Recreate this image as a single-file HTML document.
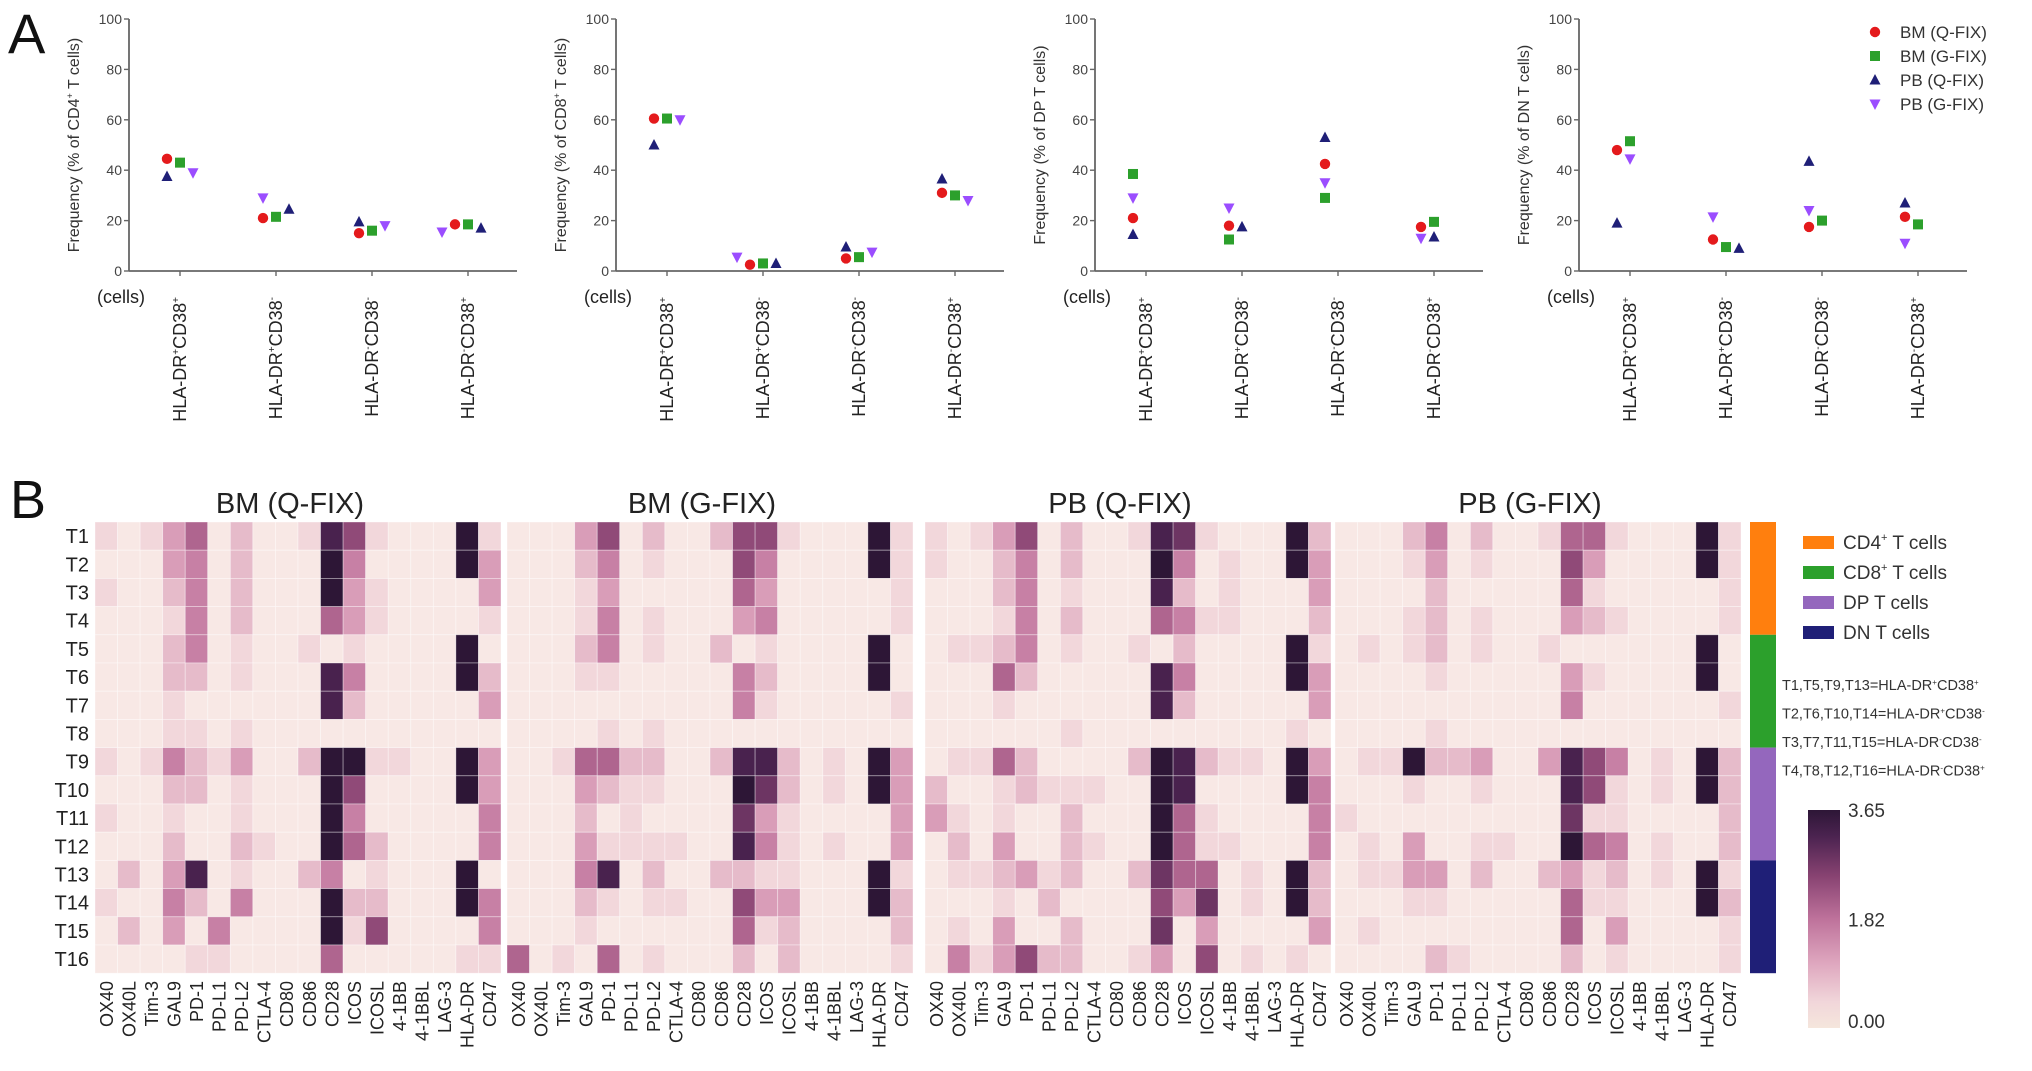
<!DOCTYPE html>
<html><head><meta charset="utf-8">
<style>
html,body{margin:0;padding:0;background:#fff;}
svg{display:block;font-family:"Liberation Sans",Arial,sans-serif;}
</style></head>
<body>
<svg id="fig" width="2032" height="1071" viewBox="0 0 2032 1071" xmlns="http://www.w3.org/2000/svg">
<rect x="0" y="0" width="2032" height="1071" fill="#fff"/>
<text x="8" y="53" font-size="56" fill="#111">A</text>
<text x="10" y="518" font-size="54" fill="#111">B</text>
<g id="topPanels"></g>
<g id="heatPanel"></g>
</svg>
<script>
// ---------- Panel A data ----------
const categories = ["HLA-DR+CD38+","HLA-DR+CD38-","HLA-DR-CD38-","HLA-DR-CD38+"];
const yTicks = [0,20,40,60,80,100];
const panelTitles = ["CD4+","CD8+","DP","DN"];
const seriesNames = ["BM (Q-FIX)","BM (G-FIX)","PB (Q-FIX)","PB (G-FIX)"];
// values per panel: [category][series: BMQ, BMG, PBQ, PBG]
const cd4Values = [[44.5,43,37.5,39],[21,21.5,24.5,29],[15,16,19.5,18],[18.5,18.5,17,15.5]];
const cd8Values = [[60.5,60.5,50,60],[2.5,3,3,5.5],[5,5.5,9.5,7.5],[31,30,36.5,28]];
const dpValues  = [[21,38.5,14.5,29],[18,12.5,17.5,25],[42.5,29,53,35],[17.5,19.5,13.5,13]];
const dnValues  = [[48,51.5,19,44.5],[12.5,9.5,9,21.5],[17.5,20,43.5,24],[21.5,18.5,27,11]];

// ---------- Panel B data ----------
const markers = ["OX40","OX40L","Tim-3","GAL9","PD-1","PD-L1","PD-L2","CTLA-4","CD80","CD86","CD28","ICOS","ICOSL","4-1BB","4-1BBL","LAG-3","HLA-DR","CD47"];
const rowLabels = ["T1","T2","T3","T4","T5","T6","T7","T8","T9","T10","T11","T12","T13","T14","T15","T16"];
const blockTitles = ["BM (Q-FIX)","BM (G-FIX)","PB (Q-FIX)","PB (G-FIX)"];
const colorbarTicks = ["0.00","1.82","3.65"];
const vmax = 3.65;
// expression levels on a 0..9 scale (9 = 3.65)
const bmqLevels = [
[1,0,1,3,5,0,2,0,0,1,8,6,1,0,0,0,9,1],[0,0,0,3,4,0,2,0,0,0,9,4,0,0,0,0,9,3],[1,0,0,2,4,0,2,0,0,0,9,3,1,0,0,0,0,3],[0,0,0,1,4,0,2,0,0,0,5,3,1,0,0,0,0,1],
[0,0,0,2,4,0,1,0,0,1,0,1,0,0,0,0,9,0],[0,0,0,2,2,0,1,0,0,0,8,4,0,0,0,0,9,2],[0,0,0,1,0,0,0,0,0,0,8,2,0,0,0,0,0,3],[0,0,0,1,1,0,1,0,0,0,0,0,0,0,0,0,0,0],
[1,0,1,4,2,1,3,0,0,2,9,9,1,1,0,0,9,3],[0,0,0,2,2,0,1,0,0,0,9,6,0,0,0,0,9,3],[1,0,0,1,0,0,1,0,0,0,9,4,0,0,0,0,0,4],[0,0,0,2,0,0,2,1,0,0,9,5,2,0,0,0,0,4],
[0,2,0,3,8,0,1,0,0,2,4,0,1,0,0,0,9,0],[1,0,0,4,2,0,4,0,0,0,9,2,2,0,0,0,9,4],[0,2,0,3,0,4,0,0,0,0,9,1,6,0,0,0,0,4],[0,0,0,0,1,1,0,0,0,0,5,0,0,0,0,0,1,1]];
const bmgLevels = [
[0,0,0,3,6,0,2,0,0,2,6,6,1,0,0,0,9,1],[0,0,0,2,4,0,1,0,0,0,6,4,0,0,0,0,9,1],[0,0,0,1,3,0,0,0,0,0,5,3,0,0,0,0,0,1],[0,0,0,1,4,0,1,0,0,0,3,4,0,0,0,0,0,1],
[0,0,0,2,4,0,1,0,0,2,0,1,0,0,0,0,9,0],[0,0,0,1,1,0,0,0,0,0,4,2,0,0,0,0,9,0],[0,0,0,0,0,0,0,0,0,0,4,1,0,0,0,0,0,1],[0,0,0,0,1,0,1,0,0,0,0,0,0,0,0,0,0,0],
[0,0,1,5,5,2,2,0,0,2,8,8,2,0,1,0,9,3],[0,0,0,3,2,1,1,0,0,0,9,7,2,0,1,0,9,3],[0,0,0,2,0,1,0,0,0,0,7,3,1,0,0,0,0,3],[0,0,0,3,1,1,1,1,0,0,8,4,1,0,1,0,0,3],
[0,0,0,4,8,0,2,0,0,2,2,1,1,0,0,0,9,1],[0,0,0,2,1,0,1,1,0,0,6,3,3,0,0,0,9,2],[0,0,0,1,0,0,0,0,0,0,5,1,2,0,0,0,0,2],[5,0,1,0,5,0,1,0,0,0,2,0,2,0,0,0,0,1]];
const pbqLevels = [
[1,0,1,3,6,0,2,0,0,1,8,7,1,0,0,0,9,2],[1,0,0,2,4,0,2,0,0,0,9,4,0,1,0,0,9,3],[0,0,0,2,4,0,1,0,0,0,8,2,0,1,0,0,0,3],[0,0,0,1,4,0,2,0,0,0,5,4,1,1,0,0,0,2],
[0,1,1,2,4,0,1,0,0,1,0,2,0,0,0,0,9,1],[0,0,0,5,2,0,0,0,0,0,8,4,0,0,0,0,9,3],[0,0,0,1,0,0,0,0,0,0,8,2,0,0,0,0,0,3],[0,0,0,0,0,0,1,0,0,0,0,0,0,0,0,0,1,0],
[0,1,1,5,2,0,0,0,0,2,9,8,2,1,1,0,9,3],[2,0,0,1,2,1,1,1,0,0,9,8,0,0,0,0,9,4],[3,1,0,1,0,0,2,0,0,0,9,5,1,0,0,0,0,4],[0,2,0,3,0,0,2,1,0,0,9,5,1,1,0,0,0,4],
[0,1,1,2,3,1,2,0,0,2,7,5,5,0,1,0,9,2],[0,0,0,1,0,2,0,0,0,0,6,3,7,0,1,0,9,2],[0,1,0,3,0,0,2,0,0,0,7,0,3,0,0,0,0,3],[0,4,1,3,6,2,2,0,0,1,3,0,6,0,1,0,1,0]];
const pbgLevels = [
[0,0,0,2,4,0,2,0,0,1,5,5,1,0,0,0,9,1],[0,0,0,1,3,0,1,0,0,0,6,3,0,0,0,0,9,1],[0,0,0,0,2,0,0,0,0,0,5,1,0,0,0,0,0,1],[0,0,0,1,2,0,1,0,0,0,3,2,1,0,0,0,0,1],
[0,1,0,1,2,0,1,0,0,1,0,0,0,0,0,0,9,0],[0,0,0,0,1,0,0,0,0,0,3,1,0,0,0,0,9,0],[0,0,0,0,0,0,0,0,0,0,4,0,0,0,0,0,0,1],[0,0,0,0,1,0,0,0,0,0,0,0,0,0,0,0,0,0],
[0,1,1,9,2,2,3,0,0,3,8,6,4,0,1,0,9,2],[0,0,0,1,0,0,1,0,0,0,8,6,1,0,1,0,9,2],[1,0,0,0,0,0,0,0,0,0,7,1,1,0,0,0,0,2],[0,1,0,3,0,0,1,1,0,0,9,5,4,0,1,0,0,2],
[0,1,1,3,3,0,2,0,0,2,3,1,2,0,1,0,9,1],[0,0,0,1,1,0,0,0,0,0,5,1,1,0,0,0,9,2],[0,1,0,0,0,0,0,0,0,0,5,0,3,0,0,0,0,1],[0,0,0,0,2,1,0,0,0,0,2,0,1,0,0,0,0,1]];
const groupNames = ["CD4+ T cells","CD8+ T cells","DP T cells","DN T cells"];
const groupColors = ["#ff7f0e","#2ca02c","#9467bd","#1f1f77"];
const annotations = [["T1,T5,T9,T13=HLA-DR","+","CD38","+"],["T2,T6,T10,T14=HLA-DR","+","CD38","-"],["T3,T7,T11,T15=HLA-DR","-","CD38","-"],["T4,T8,T12,T16=HLA-DR","-","CD38","+"]];

const NS="http://www.w3.org/2000/svg";
function mk(tag, attrs, parent){const e=document.createElementNS(NS,tag);for(const k in attrs)e.setAttribute(k,attrs[k]);parent.appendChild(e);return e;}

// ---------- Panel A ----------
const topG=document.getElementById('topPanels');
const allPanels=[cd4Values,cd8Values,dpValues,dnValues];
const axisLefts=[129,616,1095,1579];
const Y0=271, Y100=19, axisLen=388;
const yScale=v=>Y0-(v/100)*(Y0-Y100);
const seriesColors=["#e41a1c","#2ca02c","#1f1f77","#9b4dff"];
function drawMarker(s,cx,cy,g){
  let m;
  if(s===0){m=mk('circle',{cx:cx,cy:cy,r:5.2,fill:seriesColors[0]},g);}
  else if(s===1){m=mk('rect',{x:cx-5,y:cy-5,width:10,height:10,fill:seriesColors[1]},g);}
  else if(s===2){m=mk('polygon',{points:`${cx},${cy-6} ${cx+5.5},${cy+4.5} ${cx-5.5},${cy+4.5}`,fill:seriesColors[2]},g);}
  else {m=mk('polygon',{points:`${cx},${cy+6} ${cx+5.5},${cy-4.5} ${cx-5.5},${cy-4.5}`,fill:seriesColors[3]},g);}
  return m;
}
function catLabel(g,x,label){
  const t=mk('text',{transform:`translate(${x+6},297) rotate(-90)`,'text-anchor':'end','font-size':18,fill:'#222'},g);
  const parts=[label.slice(0,6),label[6],label.slice(7,11),label[11]];
  parts.forEach((p,i)=>{const ts=mk('tspan',{},t);ts.textContent=p;if(i%2===1){ts.setAttribute('font-size','10');ts.setAttribute('dy','-7');}else if(i===2){ts.setAttribute('dy','7');}});
  return t;
}
allPanels.forEach((vals,p)=>{
  const g=mk('g',{},topG);
  
  
  const ax=axisLefts[p];
  const yl=mk('line',{x1:ax,y1:Y0,x2:ax,y2:Y100,stroke:'#666','stroke-width':1.8},g);
  
  
  const xl=mk('line',{x1:ax,y1:Y0,x2:ax+axisLen,y2:Y0,stroke:'#666','stroke-width':1.8},g);
  
  
  yTicks.forEach(t=>{
    const y=yScale(t);
    mk('line',{x1:ax-5,y1:y,x2:ax,y2:y,stroke:'#666','stroke-width':1.4},g);
    const tl=mk('text',{x:ax-7,y:y+5,'text-anchor':'end','font-size':14,fill:'#444'},g);
    tl.textContent=t;
    
    
  });
  const tt=mk('text',{transform:`translate(${ax-50},${(Y0+Y100)/2}) rotate(-90)`,'text-anchor':'middle','font-size':16,fill:'#333'},g);
  
  
  const name=panelTitles[p];
  const a=mk('tspan',{},tt);a.textContent='Frequency (% of '+name.replace('+','');
  if(name.includes('+')){const sp=mk('tspan',{'font-size':9,dy:-6},tt);sp.textContent='+';const b=mk('tspan',{dy:6},tt);b.textContent=' T cells)';}
  else {const b=mk('tspan',{},tt);b.textContent=' T cells)';}
  const cl=mk('text',{x:ax-32,y:303,'font-size':18,fill:'#222'},g);cl.textContent='(cells)';
  
  
  categories.forEach((c,i)=>{
    const cx=ax+51+96*i;
    mk('line',{x1:cx,y1:Y0,x2:cx,y2:Y0+5,stroke:'#666','stroke-width':1.4},g);
    const lab=catLabel(g,cx,c);
    
    
    const placed=[];
    vals[i].forEach((v,s)=>{
      const cy=yScale(v);
      const offs=[-13,0,13,-26,26];
      let dx=0;
      for(const o of offs){if(!placed.some(q=>Math.abs(q[0]-o)<12&&Math.abs(q[1]-cy)<11)){dx=o;break;}}
      placed.push([dx,cy]);
      const m=drawMarker(s,cx+dx,cy,g);
      
      
    });
  });
});
// legend A
const legA=mk('g',{},topG);


seriesNames.forEach((n,s)=>{
  const y=32+24*s;
  drawMarker(s,1875,y,legA);
  const t=mk('text',{x:1900,y:y+6,'font-size':17,fill:'#333'},legA);t.textContent=n;
  
  
});

// ---------- Panel B ----------
const heatG=document.getElementById('heatPanel');
const blocks=[bmqLevels,bmgLevels,pbqLevels,pbgLevels];
const blockLefts=[95,507,925,1335];
const blockW=406, rowTop=522, rowH=28.2;
const colW=blockW/markers.length;
const stops=[[0,[248,232,229]],[0.12,[241,214,218]],[0.3,[222,166,190]],[0.5,[190,114,155]],[0.7,[135,66,113]],[0.88,[75,35,80]],[1,[45,22,54]]];
const cbStops=[[0,[245,230,220]],[0.12,[241,214,218]],[0.3,[222,166,190]],[0.5,[190,114,155]],[0.7,[135,66,113]],[0.88,[75,35,80]],[1,[45,22,54]]];
function cmap(v){
  const t=Math.max(0,Math.min(1,v/vmax));
  for(let i=1;i<stops.length;i++){if(t<=stops[i][0]){const a=stops[i-1],b=stops[i];const f=(t-a[0])/(b[0]-a[0]);return 'rgb('+a[1].map((c,k)=>Math.round(c+(b[1][k]-c)*f)).join(',')+')';}}
  return 'rgb(45,22,54)';
}
blocks.forEach((lv,b)=>{
  const g=mk('g',{},heatG);
  
  
  const x0=blockLefts[b];
  const tt=mk('text',{x:x0+blockW/2-8,y:513,'text-anchor':'middle','font-size':29,fill:'#222'},g);
  tt.textContent=blockTitles[b];
  
  
  lv.forEach((row,r)=>{
    row.forEach((l,c)=>{
      const val=l*vmax/9;
      const cell=mk('rect',{x:x0+c*colW,y:rowTop+r*rowH,width:colW,height:rowH,fill:cmap(val),stroke:'#fff','stroke-width':0.8,'stroke-opacity':0.45},g);
      
      
    });
  });
  markers.forEach((m,c)=>{
    const t=mk('text',{transform:`translate(${x0+c*colW+colW/2+6.5},981) rotate(-90)`,'text-anchor':'end','font-size':18,fill:'#222'},g);
    t.textContent=m;
    
    
  });
});
rowLabels.forEach((r,i)=>{
  const t=mk('text',{x:89,y:rowTop+i*rowH+rowH/2+7,'text-anchor':'end','font-size':20,fill:'#222'},heatG);
  t.textContent=r;
  
  
});
// group color strip
groupColors.forEach((col,i)=>{
  const s=mk('rect',{x:1750,y:rowTop+i*4*rowH,width:26,height:4*rowH,fill:col},heatG);
  
  
});
// group legend
groupNames.forEach((n,i)=>{
  const y=542+30*i;
  const sw=mk('rect',{x:1803,y:y-6,width:31,height:13,fill:groupColors[i]},heatG);
  
  
  const t=mk('text',{x:1843,y:y+7,'font-size':19,fill:'#333'},heatG);
  
  
  if(n.includes('+')){const a=mk('tspan',{},t);a.textContent=n.split('+')[0];const sp=mk('tspan',{'font-size':11,dy:-8},t);sp.textContent='+';const c=mk('tspan',{dy:8},t);c.textContent=n.split('+')[1];}
  else t.textContent=n;
});
annotations.forEach((a,i)=>{
  const t=mk('text',{x:1782,y:690+28.5*i,'font-size':14.5,fill:'#333'},heatG);
  
  
  a.forEach((p,k)=>{const ts=mk('tspan',{},t);ts.textContent=p;if(k%2===1){ts.setAttribute('font-size','8');ts.setAttribute('dy','-5');}else if(k===2){ts.setAttribute('dy','5');}});
});
// colorbar
const defs=mk('defs',{},heatG);
const grad=mk('linearGradient',{id:'cbg',x1:0,y1:1,x2:0,y2:0},defs);
cbStops.forEach(s=>mk('stop',{offset:s[0],'stop-color':'rgb('+s[1].join(',')+')'},grad));
const cb=mk('rect',{x:1808,y:810,width:32,height:218,fill:'url(#cbg)'},heatG);


colorbarTicks.forEach(tk=>{
  const v=parseFloat(tk);
  const y=1028-(v/vmax)*218;
  const t=mk('text',{x:1848,y:Math.min(1028,Math.max(817,y+7)),'font-size':19,fill:'#333'},heatG);
  t.textContent=tk;
  
  
});
</script>
</body></html>
